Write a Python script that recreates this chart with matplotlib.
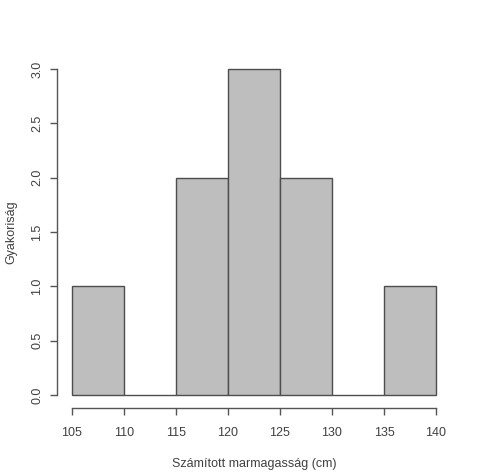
import matplotlib
matplotlib.use('Agg')
import matplotlib.pyplot as plt

# hisztogram adatai
bins = [105, 110, 115, 120, 125, 130, 135, 140]
counts = [1, 0, 2, 3, 2, 0, 1]
x_ticks = [105, 110, 115, 120, 125, 130, 135, 140]
y_ticks = [0.0, 0.5, 1.0, 1.5, 2.0, 2.5, 3.0]

plt.rcParams['font.family'] = ['Liberation Sans', 'DejaVu Sans']
txt = '#404040'
axc = '#555555'

W, H = 479, 476
fig = plt.figure(figsize=(W / 100, H / 100), dpi=100)
ax = fig.add_axes([57 / W, (H - 408) / H, (450.6 - 57) / W, (408 - 56) / H])

widths = [bins[i + 1] - bins[i] for i in range(len(counts))]
ax.bar(bins[:-1], counts, width=widths, align='edge',
       color='#bebebe', edgecolor='#4d4d4d', linewidth=1.0)

ax.set_xlim(103.6, 141.4)
ax.set_ylim(-0.12, 3.12)

for s in ['top', 'right']:
    ax.spines[s].set_visible(False)
ax.spines['left'].set_bounds(0, 3)
ax.spines['bottom'].set_bounds(105, 140)
for s in ['left', 'bottom']:
    ax.spines[s].set_color(axc)
    ax.spines[s].set_linewidth(1.0)

ax.set_xticks(x_ticks)
ax.set_xticklabels([str(v) for v in x_ticks])
ax.set_yticks(y_ticks)
ax.set_yticklabels(['%.1f' % v for v in y_ticks], rotation=90, va='center')
ax.tick_params(direction='out', length=5, width=1.0, color=axc,
               labelcolor=txt, labelsize=9)
ax.tick_params(axis='x', pad=9)
ax.tick_params(axis='y', pad=5)

ax.set_xlabel('Számított marmagasság (cm)', fontsize=9, color=txt, labelpad=13)
ax.set_ylabel('Gyakoriság', fontsize=9, color=txt, labelpad=10)

fig.savefig('out.png', dpi=100)
